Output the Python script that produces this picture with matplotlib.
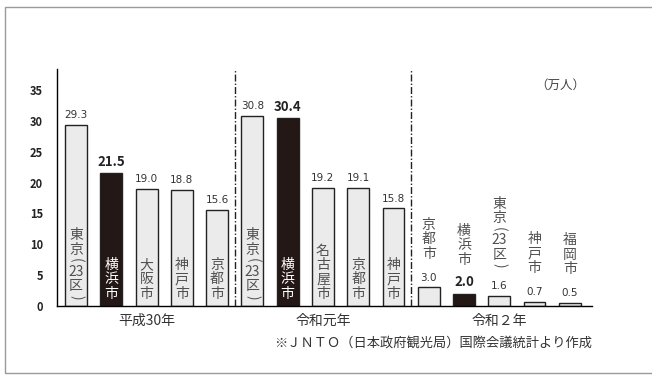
import numpy as np
import matplotlib
matplotlib.use("Agg")
import matplotlib.pyplot as plt
from matplotlib.patches import Rectangle

plt.rcParams['font.family'] = ['Noto Sans CJK JP', 'DejaVu Sans']

# --- data ---
groups = ['平成30年', '令和元年', '令和２年']
cities_h30 = ['東京(23区)', '横浜市', '大阪市', '神戸市', '京都市']
values_h30 = [29.3, 21.5, 19.0, 18.8, 15.6]
cities_r1 = ['東京(23区)', '横浜市', '名古屋市', '京都市', '神戸市']
values_r1 = [30.8, 30.4, 19.2, 19.1, 15.8]
cities_r2 = ['京都市', '横浜市', '東京(23区)', '神戸市', '福岡市']
values_r2 = [3.0, 2.0, 1.6, 0.7, 0.5]
highlight = '横浜市'
unit_label = '（万人）'
source_note = '※ＪＮＴＯ（日本政府観光局）国際会議統計より作成'
yticks = [0, 5, 10, 15, 20, 25, 30, 35]


def tokenize(name):
    """縦書き用トークン（数字はまとめる）"""
    tokens = []
    buf = ''
    for ch in name:
        if ch.isdigit():
            buf += ch
            continue
        if buf:
            tokens.append(buf)
            buf = ''
        tokens.append(ch)
    if buf:
        tokens.append(buf)
    return tokens


def draw_vertical(ax, x, y0, name, color, size=10):
    """y0 (データ座標) を下端として、下から順に1文字ずつ積み上げる"""
    off = 0.0
    for tok in reversed(tokenize(name)):
        paren = tok in '()'
        h = size * (0.55 if paren else 1.04)
        ax.annotate(tok, xy=(x, y0), xytext=(0, off + h / 2),
                    textcoords='offset points', ha='center', va='center',
                    rotation=-90 if paren else 0, rotation_mode='anchor',
                    fontsize=size, color=color)
        off += h


all_cities = [cities_h30, cities_r1, cities_r2]
all_values = [values_h30, values_r1, values_r2]

fig = plt.figure(figsize=(6.52, 3.75), dpi=100)
fig.patches.append(Rectangle((0.008, 0.005), 1.1, 0.976, transform=fig.transFigure,
                             fill=False, edgecolor='#9a9a9a', linewidth=1.0))
ax = fig.add_axes([0.0874, 0.184, 0.8206, 0.632])

light = '#ebebeb'
dark = '#231815'
pos = 0
for g, (cities, vals) in enumerate(zip(all_cities, all_values)):
    xs = np.arange(pos, pos + len(vals))
    for x, c, v in zip(xs, cities, vals):
        hl = (c == highlight)
        ax.bar(x, v, width=0.62, color=dark if hl else light,
               edgecolor='#222222', linewidth=1.0)
        if hl:
            ax.text(x, v + 0.7, f'{v:.1f}', ha='center', va='bottom',
                    fontsize=9.5, fontweight='bold', color='#222222')
        else:
            ax.text(x, v + 0.8, f'{v:.1f}', ha='center', va='bottom',
                    fontsize=7.5, color='#333333', family='DejaVu Sans')
        if g < 2:
            draw_vertical(ax, x, 0.8, c, 'white' if hl else '#505050')
        else:
            draw_vertical(ax, x, v + 4.3, c, '#505050')
    ax.text(xs.mean(), -1.3, groups[g], ha='center', va='top', fontsize=10,
            color='#333333')
    if g < 2:
        ax.plot([xs[-1] + 0.5] * 2, [0, 38.4], color='#222222', linewidth=1.0,
                linestyle=(0, (5, 1.5, 1, 1.5)))
    pos += len(vals)

ax.set_xlim(-0.54, 14.63)
ax.set_ylim(0, 38.4)
ax.set_yticks(yticks)
ax.set_yticklabels([str(t) for t in yticks], fontsize=8, color='#222222',
                   fontweight='bold')
ax.tick_params(axis='y', length=0, pad=10)
ax.set_xticks([])
for s in ['top', 'right']:
    ax.spines[s].set_visible(False)
ax.spines['left'].set_linewidth(1.0)
ax.spines['bottom'].set_linewidth(1.0)

ax.text(14.43, 35.8, unit_label, ha='right', va='center', fontsize=9, color='#444444')
fig.text(0.908, 0.085, source_note, ha='right', va='center', fontsize=9.5,
         color='#333333')

fig.savefig('out.png', dpi=100)
